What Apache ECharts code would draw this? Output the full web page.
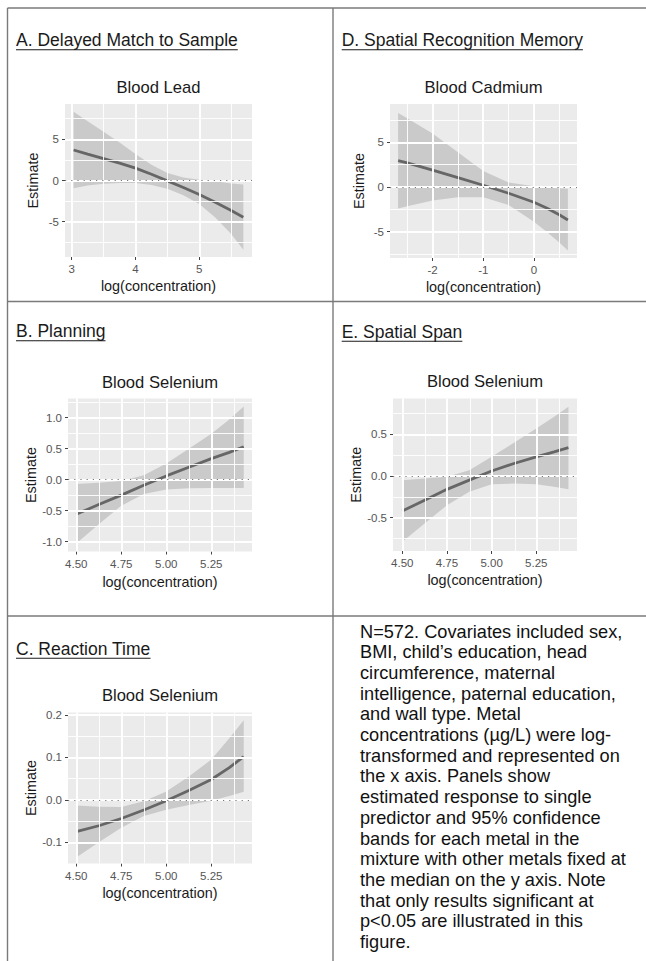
<!DOCTYPE html>
<html>
<head>
<meta charset="utf-8">
<title>Metal mixture exposure-response panels</title>
<script src="https://cdn.jsdelivr.net/npm/echarts@6/dist/echarts.min.js"></script>
<style>
  html, body { margin: 0; padding: 0; background: #fff; }
  #main { width: 646px; height: 961px; }
</style>
</head>
<body>
<div id="main"></div>
<script>
// ---- values (x = log concentration) ----
// A. Delayed Match to Sample / Blood Lead
const xA = [3.03, 3.25, 3.5, 3.75, 4.0, 4.25, 4.5, 4.75, 5.0, 5.25, 5.5, 5.69];
const fitA = [3.7, 3.2, 2.65, 2.1, 1.5, 0.75, -0.05, -0.85, -1.7, -2.65, -3.65, -4.45];
const upperA = [8.35, 7.2, 5.9, 4.6, 3.2, 1.9, 0.9, 0.35, 0.1, -0.1, -0.35, -0.5];
const lowerA = [-0.95, -0.6, -0.4, -0.3, -0.3, -0.55, -1.0, -1.8, -2.85, -4.5, -6.5, -8.4];

// D. Spatial Recognition Memory / Blood Cadmium
const xD = [-2.68, -2.5, -2.0, -1.5, -1.0, -0.5, 0.0, 0.25, 0.5, 0.67];
const fitD = [2.95, 2.7, 1.9, 1.05, 0.2, -0.7, -1.7, -2.35, -3.1, -3.7];
const upperD = [8.3, 7.7, 6.0, 3.9, 1.8, 0.5, 0.1, -0.05, -0.15, -0.2];
const lowerD = [-2.4, -2.15, -1.5, -1.15, -1.15, -2.0, -3.9, -5.0, -6.2, -7.1];

// B. Planning / Blood Selenium
const xB = [4.5, 4.625, 4.75, 4.875, 5.0, 5.125, 5.25, 5.35, 5.43];
const fitB = [-0.56, -0.4, -0.25, -0.09, 0.06, 0.2, 0.34, 0.44, 0.53];
const upperB = [-0.07, -0.05, -0.02, 0.07, 0.26, 0.5, 0.74, 0.97, 1.18];
const lowerB = [-1.03, -0.72, -0.42, -0.23, -0.16, -0.14, -0.135, -0.135, -0.135];

// E. Spatial Span / Blood Selenium
const xE = [4.5, 4.625, 4.75, 4.875, 5.0, 5.125, 5.25, 5.35, 5.43];
const fitE = [-0.42, -0.29, -0.16, -0.05, 0.06, 0.15, 0.23, 0.29, 0.34];
const upperE = [-0.05, -0.03, -0.01, 0.07, 0.23, 0.4, 0.57, 0.71, 0.83];
const lowerE = [-0.79, -0.57, -0.35, -0.19, -0.1, -0.09, -0.1, -0.13, -0.16];

// C. Reaction Time / Blood Selenium
const xC = [4.5, 4.625, 4.75, 4.875, 5.0, 5.125, 5.25, 5.35, 5.43];
const fitC = [-0.075, -0.061, -0.044, -0.024, -0.002, 0.022, 0.048, 0.076, 0.102];
const upperC = [-0.013, -0.016, -0.017, -0.003, 0.02, 0.055, 0.095, 0.145, 0.188];
const lowerC = [-0.136, -0.1, -0.066, -0.038, -0.023, -0.012, -0.002, 0.009, 0.019];

// tick labels
const xTicksA = [3, 4, 5];
const yTicksA = [-5, 0, 5];
const xTicksD = [-2, -1, 0];
const yTicksD = [-5, 0, 5];
const xTicksSe = [4.5, 4.75, 5.0, 5.25];
const yTicksB = [-1.0, -0.5, 0.0, 0.5, 1.0];
const yTicksE = [-0.5, 0.0, 0.5];
const yTicksC = [-0.1, 0.0, 0.1, 0.2];

const noteLines = [
  "N=572. Covariates included sex,",
  "BMI, child\u2019s education, head",
  "circumference, maternal",
  "intelligence, paternal education,",
  "and wall type. Metal",
  "concentrations (\u00b5g/L) were log-",
  "transformed and represented on",
  "the x axis. Panels show",
  "estimated response to single",
  "predictor and 95% confidence",
  "bands for each metal in the",
  "mixture with other metals fixed at",
  "the median on the y axis. Note",
  "that only results significant at",
  "p<0.05 are illustrated in this",
  "figure.",
];

// ---- layout ----
const FONT = "'Liberation Sans', Arial, Helvetica, sans-serif";

const panels = [
  { id: "A", header: "A. Delayed Match to Sample", title: "Blood Lead",
    x: xA, fit: fitA, upper: upperA, lower: lowerA,
    xTicks: xTicksA, yTicks: yTicksA, xDigits: 0, yDigits: 0,
    xRange: [2.895, 5.826], yRange: [-9.28, 9.28],
    box: [65, 104, 187, 153], headerPos: [16, 40], titleY: 87.2, xNameMid: 285.7, yNameMid: 32.3 },
  { id: "D", header: "D. Spatial Recognition Memory", title: "Blood Cadmium",
    x: xD, fit: fitD, upper: upperD, lower: lowerD,
    xTicks: xTicksD, yTicks: yTicksD, xDigits: 0, yDigits: 0,
    xRange: [-2.84, 0.85], yRange: [-7.95, 9.3],
    box: [390, 104, 187, 154], headerPos: [341.7, 40], titleY: 87.2, xNameMid: 286.7, yNameMid: 358.3 },
  { id: "B", header: "B. Planning", title: "Blood Selenium",
    x: xB, fit: fitB, upper: upperB, lower: lowerB,
    xTicks: xTicksSe, yTicks: yTicksB, xDigits: 2, yDigits: 1,
    xRange: [4.454, 5.476], yRange: [-1.16, 1.31],
    box: [68, 398.5, 184, 153], headerPos: [16, 331], titleY: 382.2, xNameMid: 582.3, yNameMid: 32.3 },
  { id: "E", header: "E. Spatial Span", title: "Blood Selenium",
    x: xE, fit: fitE, upper: upperE, lower: lowerE,
    xTicks: xTicksSe, yTicks: yTicksE, xDigits: 2, yDigits: 1,
    xRange: [4.448, 5.478], yRange: [-0.9, 0.93],
    box: [393, 398.5, 184, 152.5], headerPos: [341.7, 331.5], titleY: 381.7, xNameMid: 580, yNameMid: 357.3 },
  { id: "C", header: "C. Reaction Time", title: "Blood Selenium",
    x: xC, fit: fitC, upper: upperC, lower: lowerC,
    xTicks: xTicksSe, yTicks: yTicksC, xDigits: 2, yDigits: 1,
    xRange: [4.454, 5.476], yRange: [-0.15, 0.206],
    box: [68, 712.5, 184, 151], headerPos: [16, 648.5], titleY: 695, xNameMid: 893.3, yNameMid: 32.3 },
];

const measureCtx = document.createElement("canvas").getContext("2d");
function textWidth(str, size) {
  measureCtx.font = size + "px " + FONT;
  return measureCtx.measureText(str).width;
}

// ggplot style minor breaks: half way between the majors
function minorBreaks(ticks, range) {
  const step = ticks[1] - ticks[0];
  const out = [];
  for (let v = ticks[0] - step / 2; v < range[1]; v += step) {
    if (v > range[0]) out.push(+v.toFixed(6));
  }
  return out;
}

const grid = [];
const xAxis = [];
const yAxis = [];
const series = [];
const graphic = [];

const tickLabel = { color: "#555", fontSize: 11.5, fontFamily: FONT };
const axisName = { color: "#1a1a1a", fontSize: 14.4, fontFamily: FONT };
const tickStyle = { show: true, length: 3, lineStyle: { color: "#444", width: 1 } };

panels.forEach((p, i) => {
  const [left, top, width, height] = p.box;
  grid.push({
    left: left, top: top, width: width, height: height,
    show: true, backgroundColor: "#EBEBEB", borderWidth: 0,
  });

  xAxis.push({
    type: "value", gridIndex: i, position: "bottom",
    min: p.xRange[0], max: p.xRange[1],
    axisLine: { show: false, onZero: false },
    axisTick: Object.assign({ customValues: p.xTicks }, tickStyle),
    axisLabel: Object.assign({ customValues: p.xTicks, margin: 6,
      formatter: (v) => v.toFixed(p.xDigits) }, tickLabel),
    splitLine: { show: false },
    name: "log(concentration)", nameLocation: "middle",
    nameGap: p.xNameMid - (top + height) - 7.2, nameTextStyle: axisName,
  });
  yAxis.push({
    type: "value", gridIndex: i, position: "left",
    min: p.yRange[0], max: p.yRange[1],
    axisLine: { show: false, onZero: false },
    axisTick: Object.assign({ customValues: p.yTicks }, tickStyle),
    axisLabel: Object.assign({ customValues: p.yTicks, margin: 6,
      formatter: (v) => v.toFixed(p.yDigits) }, tickLabel),
    splitLine: { show: false },
    name: "Estimate", nameLocation: "middle",
    nameGap: left - p.yNameMid - 7.2, nameTextStyle: axisName,
  });

  // white grid lines, major and minor, placed through the axes
  const gridLines = []
    .concat(minorBreaks(p.xTicks, p.xRange).map((v) => ({ xAxis: v, lineStyle: { width: 0.9 } })))
    .concat(minorBreaks(p.yTicks, p.yRange).map((v) => ({ yAxis: v, lineStyle: { width: 0.9 } })))
    .concat(p.xTicks.map((v) => ({ xAxis: v, lineStyle: { width: 1.9 } })))
    .concat(p.yTicks.map((v) => ({ yAxis: v, lineStyle: { width: 1.9 } })));
  series.push({
    type: "line", xAxisIndex: i, yAxisIndex: i, data: [], silent: true, z: 1,
    markLine: {
      silent: true, symbol: ["none", "none"], label: { show: false }, animation: false,
      lineStyle: { color: "#fff", type: "solid" }, data: gridLines,
    },
  });

  // 95% band as one polygon
  series.push({
    type: "custom", xAxisIndex: i, yAxisIndex: i, silent: true, z: 2,
    data: p.x.map((x, k) => [x, p.lower[k], p.upper[k]]),
    encode: { x: 0, y: [1, 2] },
    renderItem: (params, api) => {
      if (params.dataIndex !== 0) return null;
      const upperPts = p.x.map((x, k) => api.coord([x, p.upper[k]]));
      const lowerPts = p.x.map((x, k) => api.coord([x, p.lower[k]])).reverse();
      return {
        type: "polygon",
        shape: { points: upperPts.concat(lowerPts) },
        style: { fill: "rgba(153,153,153,0.4)", stroke: null },
      };
    },
  });

  // fitted line and the dotted zero reference
  series.push({
    type: "line", xAxisIndex: i, yAxisIndex: i,
    data: p.x.map((x, k) => [x, p.fit[k]]),
    symbol: "none", silent: true,
    lineStyle: { color: "#666", width: 2.8 }, z: 4,
    markLine: {
      silent: true, symbol: ["none", "none"], label: { show: false },
      lineStyle: { color: "#777", type: [1.2, 5], width: 1.1 },
      data: [{ yAxis: 0 }], animation: false,
    },
  });

  // header (underlined) and plot title
  const [hx, hy] = p.headerPos;
  graphic.push({
    type: "text", x: hx, y: hy, silent: true,
    style: { text: p.header, fontSize: 17.5, fontFamily: FONT, fill: "#1a1a1a",
      align: "left", verticalAlign: "middle" },
  });
  graphic.push({
    type: "line", silent: true,
    shape: { x1: hx, y1: hy + 9.8, x2: hx + textWidth(p.header, 17.5), y2: hy + 9.8 },
    style: { stroke: "#1a1a1a", lineWidth: 1.1 },
  });
  graphic.push({
    type: "text", x: left + width / 2, y: p.titleY, silent: true,
    style: { text: p.title, fontSize: 16.6, fontFamily: FONT, fill: "#1a1a1a",
      align: "center", verticalAlign: "middle" },
  });
});

// table rules
const rule = { stroke: "#7a7a7a", lineWidth: 1.4 };
[
  [7.5, 8, 646, 8],
  [7.5, 301.5, 646, 301.5],
  [7.5, 616, 646, 616],
  [7.5, 8, 7.5, 961],
  [333, 8, 333, 961],
].forEach(([x1, y1, x2, y2]) => {
  graphic.push({ type: "line", silent: true, shape: { x1, y1, x2, y2 }, style: rule });
});

// footnote text in the last cell
graphic.push({
  type: "text", x: 360, y: 621.2, silent: true,
  style: { text: noteLines.join("\n"), fontSize: 18.2, lineHeight: 20.7, fontFamily: FONT,
    fill: "#111", align: "left", verticalAlign: "top" },
});

const chart = echarts.init(document.getElementById("main"), null, { renderer: "svg" });
chart.setOption({
  animation: false,
  backgroundColor: "#fff",
  grid: grid,
  xAxis: xAxis,
  yAxis: yAxis,
  series: series,
  graphic: { elements: graphic },
});
</script>
</body>
</html>
